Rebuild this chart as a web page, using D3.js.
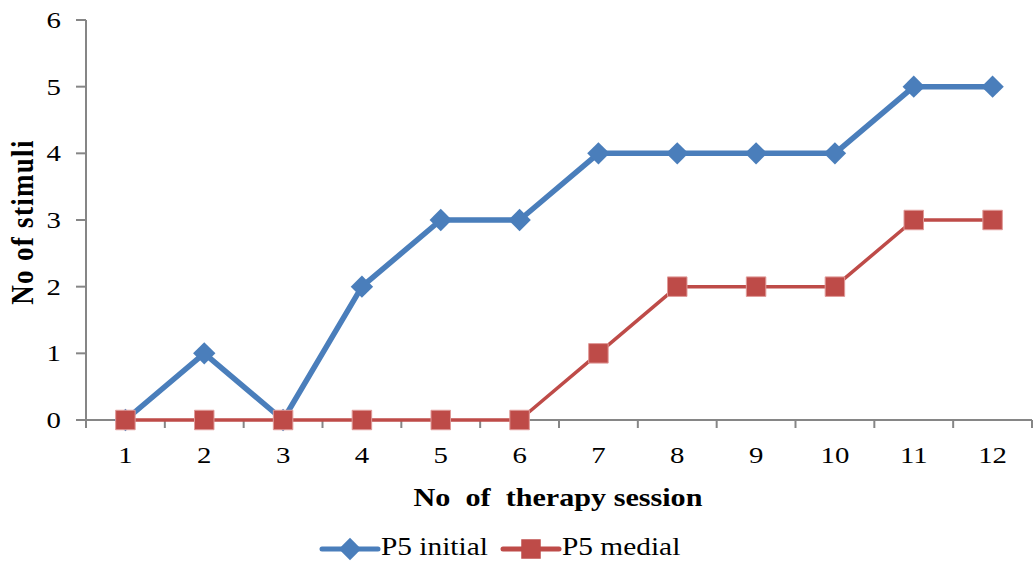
<!DOCTYPE html>
<html>
<head>
<meta charset="utf-8">
<script src="https://cdnjs.cloudflare.com/ajax/libs/d3/7.8.5/d3.min.js"></script>
<style>
  body { margin: 0; background: #fff; }
  text { white-space: pre; }
</style>
</head>
<body>
<svg id="chart" width="1033" height="567"></svg>
<script>
const sessions = ['1','2','3','4','5','6','7','8','9','10','11','12'];
const p5Initial = [0,1,0,2,3,3,4,4,4,4,5,5];
const p5Medial  = [0,0,0,0,0,0,1,2,2,2,3,3];
const yTicks = [0,1,2,3,4,5,6];

const FONT = "'Liberation Serif', 'Tinos', 'Times New Roman', 'DejaVu Serif', serif";
const SX = 1.2; // the source picture is stretched sideways
const margin = {left: 86, right: 1, top: 20, bottom: 147};
const width = 1033, height = 567;
const svg = d3.select('#chart').style('font-family', FONT);

const x = d3.scaleBand().domain(sessions).range([margin.left, width - margin.right]);
const y = d3.scaleLinear().domain([0,6]).range([height - margin.bottom, margin.top]);
const cx = d => x(d) + x.bandwidth()/2;
const at = (px, py, sx) => 'translate(' + px + ',' + py + ') scale(' + sx + ',1)';

// y axis
svg.append('line')
  .attr('x1', margin.left).attr('x2', margin.left)
  .attr('y1', y(6)).attr('y2', y(0))
  .attr('stroke', '#868686').attr('stroke-width', 2);
svg.selectAll('.ytick').data(yTicks).join('line')
  .attr('x1', margin.left - 10).attr('x2', margin.left)
  .attr('y1', d => y(d)).attr('y2', d => y(d))
  .attr('stroke', '#868686').attr('stroke-width', 2);
svg.selectAll('.ylab').data(yTicks).join('text')
  .attr('transform', d => at(margin.left - 25, y(d) + 8, SX))
  .attr('text-anchor', 'end').attr('font-size', 24).attr('font-family', FONT)
  .text(d => d);

// x axis
svg.append('line')
  .attr('x1', margin.left).attr('x2', width - margin.right)
  .attr('y1', y(0)).attr('y2', y(0))
  .attr('stroke', '#868686').attr('stroke-width', 2);
const xTickPos = sessions.map(s => x(s)).concat([x(sessions[sessions.length-1]) + x.bandwidth()]);
svg.selectAll('.xtick').data(xTickPos).join('line')
  .attr('x1', d => d).attr('x2', d => d)
  .attr('y1', y(0)).attr('y2', y(0) + 8)
  .attr('stroke', '#868686').attr('stroke-width', 2);
svg.selectAll('.xlab').data(sessions).join('text')
  .attr('transform', d => at(cx(d), y(0) + 43, SX))
  .attr('text-anchor', 'middle').attr('font-size', 24).attr('font-family', FONT)
  .text(d => d);

// titles
svg.append('text')
  .attr('transform', at(558, 506, 1.16))
  .attr('text-anchor', 'middle').attr('font-size', 26).attr('font-weight', 'bold')
  .attr('font-family', FONT)
  .text('No  of  therapy session');
svg.append('g')
  .attr('transform', at(33, (y(0)+y(6))/2 + 2, SX))
  .append('text')
  .attr('transform', 'rotate(-90)')
  .attr('text-anchor', 'middle').attr('font-size', 27).attr('font-weight', 'bold')
  .attr('letter-spacing', 1.3).attr('font-family', FONT)
  .text('No of stimuli');

// series
const line = d3.line().x((d,i) => cx(sessions[i])).y(d => y(d));
const diamond = d3.symbol().type(d3.symbolDiamond2).size(320);
const square = d3.symbol().type(d3.symbolSquare).size(380);

svg.append('path').datum(p5Initial)
  .attr('d', line).attr('fill', 'none')
  .attr('stroke', '#4a7ebb').attr('stroke-width', 5.5).attr('stroke-linejoin', 'round');
svg.selectAll('.dm').data(p5Initial).join('path')
  .attr('d', diamond)
  .attr('transform', (d,i) => 'translate(' + cx(sessions[i]) + ',' + y(d) + ')')
  .attr('fill', '#4a7ebb');

svg.append('path').datum(p5Medial)
  .attr('d', line).attr('fill', 'none')
  .attr('stroke', '#be4b48').attr('stroke-width', 3.5).attr('stroke-linejoin', 'round');
svg.selectAll('.sq').data(p5Medial).join('path')
  .attr('d', square)
  .attr('transform', (d,i) => 'translate(' + cx(sessions[i]) + ',' + y(d) + ')')
  .attr('fill', '#be4b48').attr('stroke', '#e09a98').attr('stroke-width', 1);

// legend
const legend = [
  {name: 'P5 initial', color: '#4a7ebb', sym: diamond, x: 322},
  {name: 'P5 medial', color: '#be4b48', sym: square, x: 503}
];
const lg = svg.selectAll('.lg').data(legend).join('g')
  .attr('transform', d => 'translate(' + d.x + ',549)');
lg.append('line').attr('x1', 0).attr('x2', 56)
  .attr('stroke', d => d.color).attr('stroke-width', 5).attr('stroke-linecap', 'round');
lg.append('path').attr('d', d => d.sym()).attr('transform', 'translate(28,0)')
  .attr('fill', d => d.color);
lg.append('text').attr('transform', at(59, 6, 1.13)).attr('font-size', 26)
  .attr('font-family', FONT)
  .text(d => d.name);
</script>
</body>
</html>
